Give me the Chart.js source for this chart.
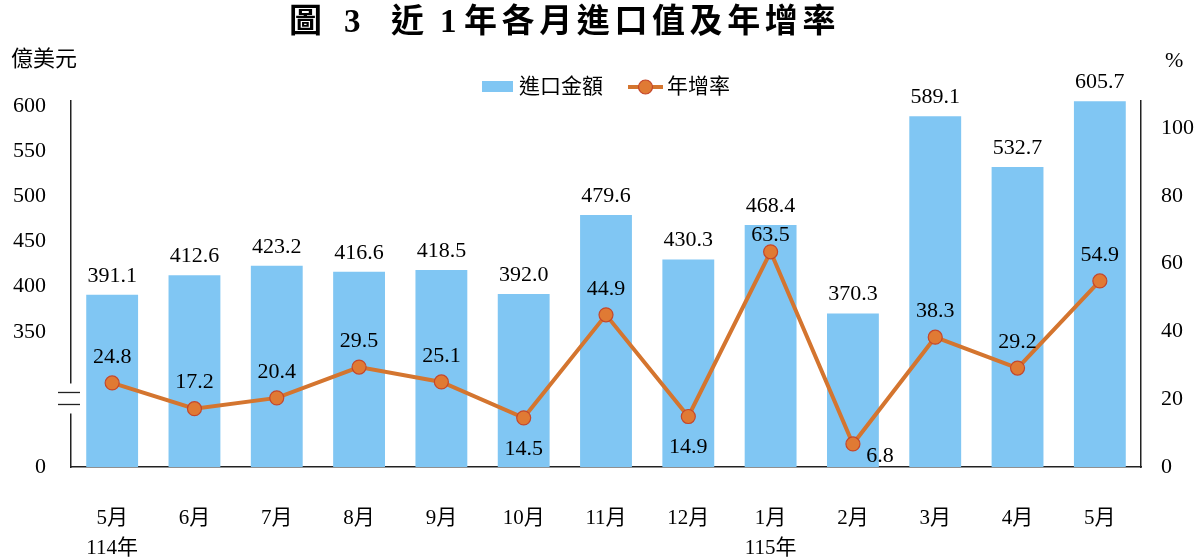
<!DOCTYPE html>
<html lang="zh-Hant">
<head>
<meta charset="utf-8">
<title>圖 3 近1年各月進口值及年增率</title>
<script src="https://cdn.jsdelivr.net/npm/chart.js@4.4.1/dist/chart.umd.min.js"></script>
<style>
  html, body { margin: 0; padding: 0; background: #fff; }
  #wrap { position: relative; width: 1200px; height: 557px; }
</style>
</head>
<body>
<div id="wrap"><canvas id="importChart" width="1200" height="557"></canvas></div>
<script>
/* ── data ── */
const months = [['5月', '114年'], '6月', '7月', '8月', '9月', '10月', '11月', '12月', ['1月', '115年'], '2月', '3月', '4月', '5月'];
const imports = [391.1, 412.6, 423.2, 416.6, 418.5, 392.0, 479.6, 430.3, 468.4, 370.3, 589.1, 532.7, 605.7];
const growth = [24.8, 17.2, 20.4, 29.5, 25.1, 14.5, 44.9, 14.9, 63.5, 6.8, 38.3, 29.2, 54.9];
const leftTicks = [0, 350, 400, 450, 500, 550, 600];
const rightTicks = [0, 20, 40, 60, 80, 100];
const seriesNames = ['進口金額', '年增率'];

// where each growth label sits relative to its point
const growthLabelPos = ['above', 'above', 'above', 'above', 'above', 'below', 'above', 'below', 'near', 'right', 'above', 'above', 'above'];

// left axis is broken between 0 and 350: values above the break are shifted down
const AXIS_SHIFT = 200;
const shifted = v => (v === 0 ? 0 : v - AXIS_SHIFT);

const BAR_COLOR = '#80c6f3';
const LINE_COLOR = '#d4752f';
const DOT_FILL = '#e07a34';
const DOT_BORDER = '#c5472b';
const FONT = "'Liberation Serif', 'Noto Sans CJK TC', serif";

Chart.defaults.font.family = FONT;
Chart.defaults.color = '#000';

function drawDot(ctx, x, y) {
  ctx.beginPath();
  ctx.arc(x, y, 7, 0, Math.PI * 2);
  ctx.fillStyle = DOT_FILL;
  ctx.fill();
  ctx.lineWidth = 1.2;
  ctx.strokeStyle = DOT_BORDER;
  ctx.stroke();
}

// title, units, legend, axis break and value labels
const decorPlugin = {
  id: 'decor',
  afterDraw(chart) {
    const { ctx, chartArea } = chart;
    const yLeft = chart.scales.y;
    ctx.save();

    // title (CJK run set with a little tracking, like the original)
    ctx.fillStyle = '#000';
    ctx.textAlign = 'left';
    ctx.textBaseline = 'middle';
    ctx.font = `bold 33px ${FONT}`;
    ctx.fillText('圖', 289, 23);
    ctx.fillText('3', 344, 23);
    ctx.fillText('近', 391, 23);
    ctx.fillText('1', 440, 23);
    [...'年各月進口值及年增率'].forEach((ch, i) => ctx.fillText(ch, 464 + i * 37.6, 23));

    ctx.font = `22px ${FONT}`;
    ctx.fillText('億美元', 11, 60);
    ctx.fillText('%', 1165, 61);

    // legend
    const legendY = 87;
    ctx.fillStyle = BAR_COLOR;
    ctx.fillRect(482, legendY - 6, 31, 11);
    ctx.fillStyle = '#000';
    ctx.font = `21px ${FONT}`;
    ctx.fillText(seriesNames[0], 519, legendY);
    ctx.strokeStyle = LINE_COLOR;
    ctx.lineWidth = 4;
    ctx.beginPath();
    ctx.moveTo(628, legendY);
    ctx.lineTo(663, legendY);
    ctx.stroke();
    drawDot(ctx, 645.5, legendY);
    ctx.fillStyle = '#000';
    ctx.fillText(seriesNames[1], 667, legendY);

    // axis break
    const breakY = yLeft.getPixelForValue(76);
    const axisX = chartArea.left;
    ctx.fillStyle = '#fff';
    ctx.fillRect(axisX - 4, breakY - 15, 8, 30);
    ctx.strokeStyle = '#222';
    ctx.lineWidth = 1.3;
    [-6, 6].forEach(dy => {
      ctx.beginPath();
      ctx.moveTo(axisX - 13, breakY + dy);
      ctx.lineTo(axisX + 9, breakY + dy);
      ctx.stroke();
    });

    ctx.restore();
  },
  afterDatasetsDraw(chart) {
    const { ctx } = chart;
    ctx.save();
    ctx.fillStyle = '#000';
    ctx.font = `22px ${FONT}`;
    ctx.textAlign = 'center';
    ctx.textBaseline = 'middle';

    chart.getDatasetMeta(1).data.forEach((bar, i) => {
      ctx.fillText(imports[i].toFixed(1), bar.x, bar.y - 19);
    });

    chart.getDatasetMeta(0).data.forEach((pt, i) => {
      const pos = growthLabelPos[i];
      let x = pt.x;
      let y = pt.y - 26;
      if (pos === 'below') y = pt.y + 31;
      if (pos === 'near') y = pt.y - 17;
      if (pos === 'right') { x = pt.x + 27; y = pt.y + 12; }
      ctx.fillText(growth[i].toFixed(1), x, y);
    });
    ctx.restore();
  },
};

const ctx = document.getElementById('importChart').getContext('2d');

new Chart(ctx, {
  data: {
    labels: months,
    datasets: [
      {
        type: 'line',
        label: seriesNames[1],
        data: growth,
        yAxisID: 'y1',
        order: 1,
        borderColor: LINE_COLOR,
        borderWidth: 4,
        tension: 0,
        pointRadius: 7,
        pointBackgroundColor: DOT_FILL,
        pointBorderColor: DOT_BORDER,
        pointBorderWidth: 1.2,
      },
      {
        type: 'bar',
        label: seriesNames[0],
        data: imports.map(shifted),
        yAxisID: 'y',
        order: 2,
        backgroundColor: BAR_COLOR,
        categoryPercentage: 1,
        barPercentage: 0.63,
      },
    ],
  },
  options: {
    responsive: false,
    animation: false,
    layout: { padding: { top: 101, left: 0, right: 0, bottom: 0 } },
    plugins: {
      tooltip: { enabled: false },
      legend: { display: false },
    },
    scales: {
      x: {
        grid: { display: false, drawTicks: false },
        border: { display: true, color: '#222', width: 1.5 },
        ticks: { font: { size: 21, lineHeight: 1.45 }, padding: 36, maxRotation: 0, color: '#000' },
        afterFit: scale => { scale.height = 90; },
      },
      y: {
        position: 'left',
        min: 0,
        max: 406,
        grid: { display: false, drawTicks: false },
        border: { display: true, color: '#222', width: 1.5 },
        ticks: {
          font: { size: 22 },
          padding: 25,
          color: '#000',
          callback: v => String(v === 0 ? 0 : v + AXIS_SHIFT),
        },
        afterBuildTicks: scale => { scale.ticks = leftTicks.map(v => ({ value: shifted(v) })); },
        afterFit: scale => { scale.width = 71; },
      },
      y1: {
        position: 'right',
        min: 0,
        max: 108,
        grid: { display: false, drawTicks: false },
        border: { display: true, color: '#222', width: 1.5 },
        ticks: { font: { size: 22 }, padding: 20, color: '#000' },
        afterBuildTicks: scale => { scale.ticks = rightTicks.map(v => ({ value: v })); },
        afterFit: scale => { scale.width = 59; },
      },
    },
  },
  plugins: [decorPlugin],
});
</script>
</body>
</html>
